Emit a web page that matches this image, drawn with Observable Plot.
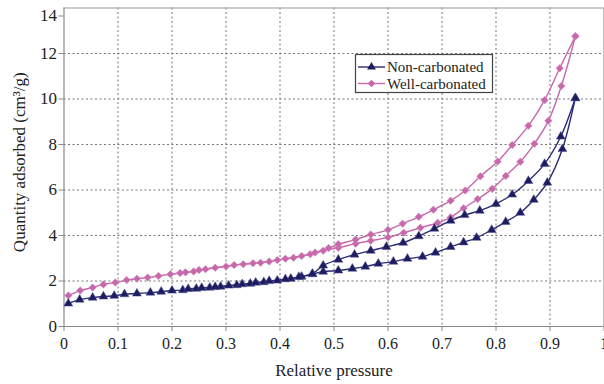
<!DOCTYPE html>
<html><head><meta charset="utf-8">
<script src="https://cdn.jsdelivr.net/npm/d3@7"></script>
<script src="https://cdn.jsdelivr.net/npm/@observablehq/plot@0.6"></script>
<style>
html,body{margin:0;padding:0;background:#fff;overflow:hidden;}
#chart{position:relative;width:604px;height:384px;}
#chart svg text{font-family:"Liberation Serif",serif !important;}
</style></head>
<body><div id="chart"></div>
<script>
// Non-carbonated adsorption branch
const ncAdsX = [0.008,0.029,0.053,0.073,0.093,0.112,0.135,0.16,0.18,0.2,0.22,0.245,0.27,0.29,0.32,0.345,0.37,0.395,0.42,0.44,0.46,0.48,0.508,0.534,0.558,0.582,0.61,0.636,0.664,0.688,0.716,0.74,0.764,0.792,0.818,0.845,0.87,0.895,0.923,0.947];
const ncAdsY = [1.01,1.18,1.27,1.32,1.35,1.42,1.45,1.49,1.53,1.58,1.6,1.66,1.71,1.75,1.82,1.88,1.95,2.02,2.1,2.19,2.3,2.41,2.46,2.54,2.63,2.76,2.85,2.98,3.07,3.25,3.5,3.7,3.9,4.25,4.6,5.0,5.57,6.32,7.8,10.04];
// Non-carbonated desorption branch
const ncDesX = [0.947,0.92,0.89,0.86,0.83,0.8,0.77,0.742,0.716,0.686,0.657,0.628,0.597,0.568,0.538,0.508,0.48,0.46,0.435,0.41,0.38,0.355,0.33,0.305,0.28,0.255,0.23];
const ncDesY = [10.04,8.35,7.15,6.4,5.8,5.39,5.09,4.9,4.65,4.3,3.97,3.68,3.5,3.33,3.16,2.94,2.68,2.32,2.18,2.08,2.0,1.93,1.86,1.8,1.74,1.7,1.65];
// Well-carbonated adsorption branch
const wcAdsX = [0.008,0.03,0.053,0.073,0.095,0.116,0.135,0.155,0.175,0.197,0.215,0.24,0.262,0.3,0.332,0.364,0.395,0.425,0.456,0.48,0.508,0.54,0.568,0.6,0.629,0.66,0.692,0.716,0.74,0.766,0.793,0.818,0.845,0.871,0.897,0.921,0.947];
const wcAdsY = [1.36,1.58,1.71,1.85,1.93,2.04,2.1,2.15,2.22,2.3,2.35,2.42,2.52,2.64,2.74,2.8,2.92,3.02,3.18,3.33,3.46,3.64,3.77,3.92,4.12,4.34,4.56,4.8,5.2,5.6,6.05,6.62,7.24,8.03,9.04,10.57,12.76];
// Well-carbonated desorption branch
const wcDesX = [0.947,0.918,0.89,0.86,0.83,0.803,0.771,0.743,0.716,0.684,0.657,0.627,0.6,0.568,0.54,0.508,0.49,0.465,0.44,0.41,0.38,0.35,0.315,0.28,0.25,0.225];
const wcDesY = [12.76,11.35,9.95,8.82,7.98,7.25,6.6,5.98,5.53,5.13,4.82,4.52,4.25,4.04,3.82,3.62,3.45,3.25,3.1,2.98,2.86,2.78,2.7,2.58,2.48,2.38];

const seriesNames = ["Non-carbonated","Well-carbonated"];
const seriesColors = ["#1d1d5e","#c668ab"];
const xTicks = [0,0.1,0.2,0.3,0.4,0.5,0.6,0.7,0.8,0.9,1];
const yTicks = [0,2,4,6,8,10,12,14];
const xLabel = "Relative pressure";
const yLabel = "Quantity adsorbed (cm³/g)";

function rows(xs, ys, series, branch){ return xs.map((x,i)=>({x, y: ys[i], series, branch: series+"-"+branch})); }
const data = [
  ...rows(wcAdsX, wcAdsY, seriesNames[1], "ads"),
  ...rows(wcDesX, wcDesY, seriesNames[1], "des"),
  ...rows(ncAdsX, ncAdsY, seriesNames[0], "ads"),
  ...rows(ncDesX, ncDesY, seriesNames[0], "des")
];
const wc = data.filter(d=>d.series===seriesNames[1]);
const nc = data.filter(d=>d.series===seriesNames[0]);

const font = "Liberation Serif";
const gridStroke = "#666";
const yMax = yTicks[yTicks.length-1];

const plot = Plot.plot({
  width: 604, height: 384,
  marginLeft: 63.5, marginRight: 0.5, marginTop: 7.5, marginBottom: 58,
  style: {fontFamily: font, fontSize: "15px", color: "#222", background: "#fff", overflow: "visible"},
  x: {domain: [0,1]},
  y: {domain: [0,yMax]},
  marks: [
    Plot.gridX(xTicks.slice(1,-1), {stroke: gridStroke, strokeOpacity: 0.9, strokeDasharray: "2,2.5"}),
    Plot.gridY(yTicks.slice(1,-1), {stroke: gridStroke, strokeOpacity: 0.9, strokeDasharray: "2,2.5"}),
    Plot.ruleY([yMax], {stroke: "#999", strokeWidth: 1.2}),
    Plot.ruleX([1], {stroke: "#aaa", strokeWidth: 1.5}),
    Plot.ruleY([0], {stroke: "#888", strokeWidth: 1.2}),
    Plot.ruleX([0], {stroke: "#888", strokeWidth: 1.2}),
    Plot.axisX(xTicks, {tickSize: 5, tickPadding: 6, stroke: "#888", fill: "#222",
      tickFormat: d => d===0 ? "0" : d===1 ? "1" : d.toFixed(1), label: null, fontSize: 16}),
    Plot.axisY(yTicks.slice(0,-1), {tickSize: 5, tickPadding: 2, stroke: "#888", fill: "#222", label: null, fontSize: 17}),
    Plot.axisY([yMax], {tickSize: 5, tickPadding: 2, stroke: "#888", fill: "#222", label: null, fontSize: 17, dy: 8}),
    Plot.text([xLabel], {frameAnchor: "bottom", dy: 44, text: d=>d, fontSize: 17, fill: "#222", lineAnchor: "middle"}),
    Plot.text([yLabel], {frameAnchor: "left", dx: -44, dy: -5, text: d=>d, fontSize: 17, fill: "#222", rotate: -90, lineAnchor: "middle", textAnchor: "middle"}),
    Plot.line(wc, {x: "x", y: "y", z: "branch", stroke: seriesColors[1], strokeWidth: 1.4, curve: "catmull-rom"}),
    Plot.dot(wc, {x: "x", y: "y", symbol: "diamond2", r: 3.4, fill: seriesColors[1], stroke: "#d98cc2", strokeWidth: 0.5}),
    Plot.line(nc, {x: "x", y: "y", z: "branch", stroke: "#2b2b72", strokeWidth: 1.4, curve: "catmull-rom"}),
    Plot.dot(nc, {x: "x", y: "y", symbol: "triangle", r: 3.3, fill: seriesColors[0], stroke: "#4a4a9a", strokeWidth: 0.5})
  ]
});
document.getElementById("chart").appendChild(plot);

// Legend inside the plot area
const svg = d3.select(plot);
const lg = svg.append("g").attr("font-family", font).attr("font-size", 15).attr("fill", "#222").attr("text-anchor", "start");
lg.append("rect").attr("x", 355.5).attr("y", 54.5).attr("width", 137).attr("height", 38)
  .attr("fill", "#fff").attr("stroke", "#444").attr("stroke-width", 1.2);
const sym = [d3.symbol(d3.symbolTriangle, 34)(), d3.symbol(d3.symbolDiamond2, 36)()];
const lineCols = ["#2b2b72", seriesColors[1]];
seriesNames.forEach((name, i) => {
  const yy = 67 + i*16.5;
  lg.append("line").attr("x1", 358).attr("x2", 385).attr("y1", yy).attr("y2", yy)
    .attr("stroke", lineCols[i]).attr("stroke-width", 1.4);
  lg.append("path").attr("d", sym[i]).attr("transform", `translate(371.5,${yy})`).attr("fill", seriesColors[i]);
  lg.append("text").attr("x", 387).attr("y", yy).attr("dy", "0.35em").attr("text-anchor", "start").text(name);
});
</script>
</body></html>
